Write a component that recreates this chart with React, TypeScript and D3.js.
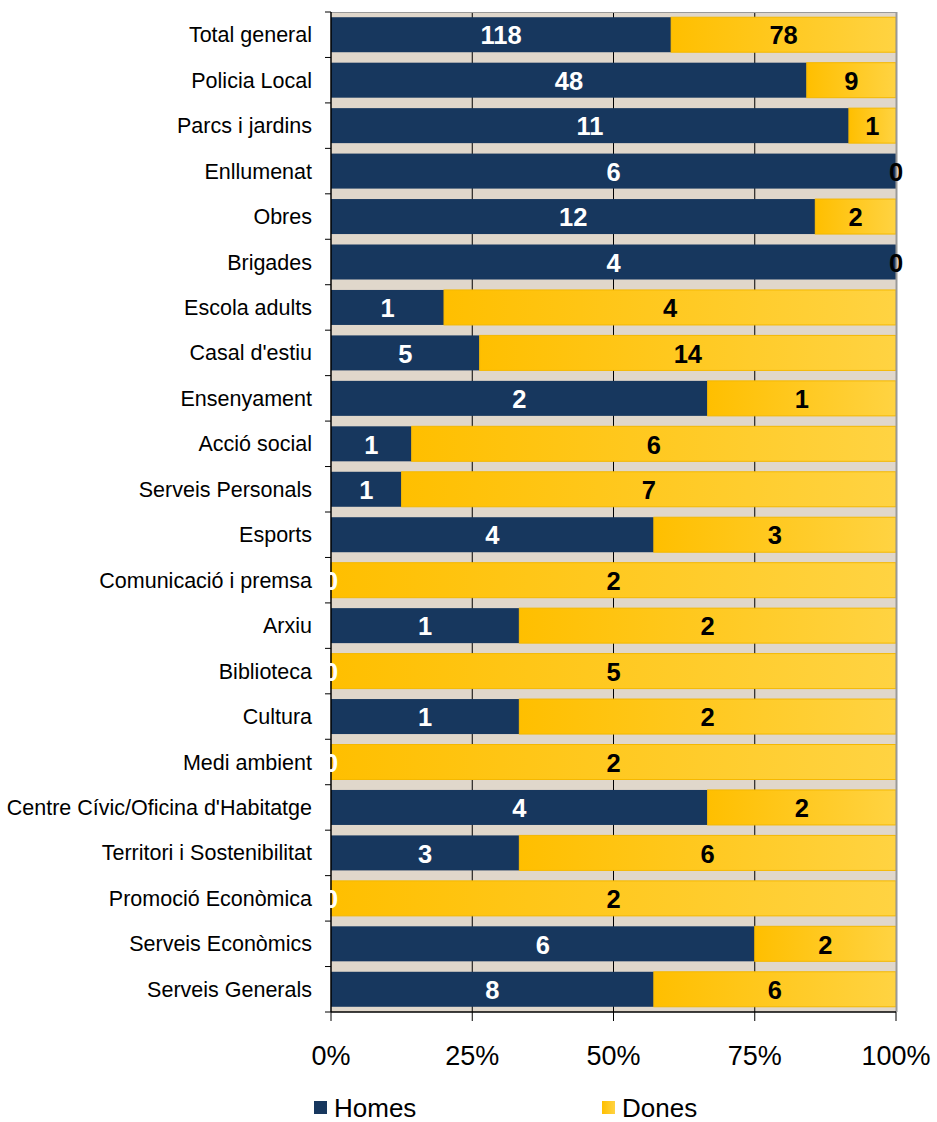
import React from "react";
import * as d3 from "d3";

const categories = [
  "Total general",
  "Policia Local",
  "Parcs i jardins",
  "Enllumenat",
  "Obres",
  "Brigades",
  "Escola adults",
  "Casal d'estiu",
  "Ensenyament",
  "Acció social",
  "Serveis Personals",
  "Esports",
  "Comunicació i premsa",
  "Arxiu",
  "Biblioteca",
  "Cultura",
  "Medi ambient",
  "Centre Cívic/Oficina d'Habitatge",
  "Territori i Sostenibilitat",
  "Promoció Econòmica",
  "Serveis Econòmics",
  "Serveis Generals",
];
const homes = [118, 48, 11, 6, 12, 4, 1, 5, 2, 1, 1, 4, 0, 1, 0, 1, 0, 4, 3, 0, 6, 8];
const dones = [78, 9, 1, 0, 2, 0, 4, 14, 1, 6, 7, 3, 2, 2, 5, 2, 2, 2, 6, 2, 2, 6];
const xTicks = [0, 0.25, 0.5, 0.75, 1];
const seriesNames = ["Homes", "Dones"];

const NAVY = "#17375e";
const BG = "#e0d7cb";
const FONT = "'Liberation Sans', Arial, sans-serif";

export default function App() {
  const W = 937;
  const H = 1122;
  const left = 331;
  const right = 896;
  const top = 12;
  const bottom = 1012;

  const x = d3.scaleLinear().domain([0, 1]).range([left, right]);
  const y = d3
    .scaleBand<string>()
    .domain(categories)
    .range([top, bottom])
    .paddingInner(0.23)
    .paddingOuter(0.115);
  const bandStep = (bottom - top) / categories.length;
  const bh = y.bandwidth();

  return (
    <svg
      width={W}
      height={H}
      style={{ position: "absolute", left: 0, top: 0, display: "block" }}
      fontFamily={FONT}
    >
      <defs>
        <linearGradient id="yellowGrad" x1="0" x2="1" y1="0" y2="0">
          <stop offset="0%" stopColor="#ffbf00" />
          <stop offset="100%" stopColor="#ffd342" />
        </linearGradient>
      </defs>
      <rect x={0} y={0} width={W} height={H} fill="#ffffff" />
      <rect x={left} y={top} width={right - left} height={bottom - top} fill={BG} />
      {xTicks.slice(1, -1).map((t) => (
        <line key={t} x1={x(t)} x2={x(t)} y1={top} y2={bottom} stroke="#000" strokeWidth={1} />
      ))}
      {categories.map((c, i) => {
        const total = homes[i] + dones[i];
        const fh = total ? homes[i] / total : 0;
        const y0 = y(c)!;
        const xm = x(fh);
        return (
          <g key={c}>
            {homes[i] > 0 && (
              <rect x={x(0)} y={y0} width={xm - x(0)} height={bh} fill={NAVY} />
            )}
            {dones[i] > 0 && (
              <rect
                x={xm}
                y={y0}
                width={x(1) - xm}
                height={bh}
                fill="url(#yellowGrad)"
                stroke="#f5b800"
                strokeWidth={1}
              />
            )}
          </g>
        );
      })}
      {/* right border */}
      <line x1={right + 0.5} x2={right + 0.5} y1={top} y2={bottom} stroke="#999" strokeWidth={2} />
      <line x1={left} x2={right + 1} y1={top + 0.5} y2={top + 0.5} stroke="#999" strokeWidth={1} />
      {/* left axis */}
      <line x1={left} x2={left} y1={top} y2={bottom} stroke="#000" strokeWidth={1.5} />
      {d3.range(categories.length + 1).map((k) => (
        <line
          key={k}
          x1={left - 6}
          x2={left}
          y1={top + k * bandStep}
          y2={top + k * bandStep}
          stroke="#000"
          strokeWidth={1}
        />
      ))}
      {/* bottom axis */}
      <line x1={left} x2={right} y1={bottom} y2={bottom} stroke="#000" strokeWidth={1.5} />
      {xTicks.map((t) => (
        <g key={t}>
          <line x1={x(t)} x2={x(t)} y1={bottom} y2={bottom + 9} stroke="#000" strokeWidth={1} />
          <text x={x(t)} y={1065} textAnchor="middle" fontSize={27} fill="#000">
            {d3.format(".0%")(t)}
          </text>
        </g>
      ))}
      {/* category labels */}
      {categories.map((c) => (
        <text
          key={c}
          x={312}
          y={y(c)! + bh / 2}
          dy="0.35em"
          textAnchor="end"
          fontSize={21.5}
          fill="#000"
        >
          {c}
        </text>
      ))}
      {/* data labels */}
      {categories.map((c, i) => {
        const total = homes[i] + dones[i];
        const fh = total ? homes[i] / total : 0;
        const cy = y(c)! + bh / 2;
        const xh = (x(0) + x(fh)) / 2;
        const xd = (x(fh) + x(1)) / 2;
        return (
          <g key={c} fontWeight="bold" fontSize={25.5}>
            <text x={xh} y={cy} dy="0.38em" textAnchor="middle" fill="#fff">
              {homes[i]}
            </text>
            <text x={xd} y={cy} dy="0.38em" textAnchor="middle" fill="#000">
              {dones[i]}
            </text>
          </g>
        );
      })}
      {/* legend */}
      <rect x={314} y={1101} width={13} height={13} fill={NAVY} />
      <text x={334} y={1117} fontSize={26} fill="#000">
        {seriesNames[0]}
      </text>
      <rect x={602} y={1101} width={13} height={13} fill="url(#yellowGrad)" />
      <text x={622} y={1117} fontSize={26} fill="#000">
        {seriesNames[1]}
      </text>
    </svg>
  );
}
